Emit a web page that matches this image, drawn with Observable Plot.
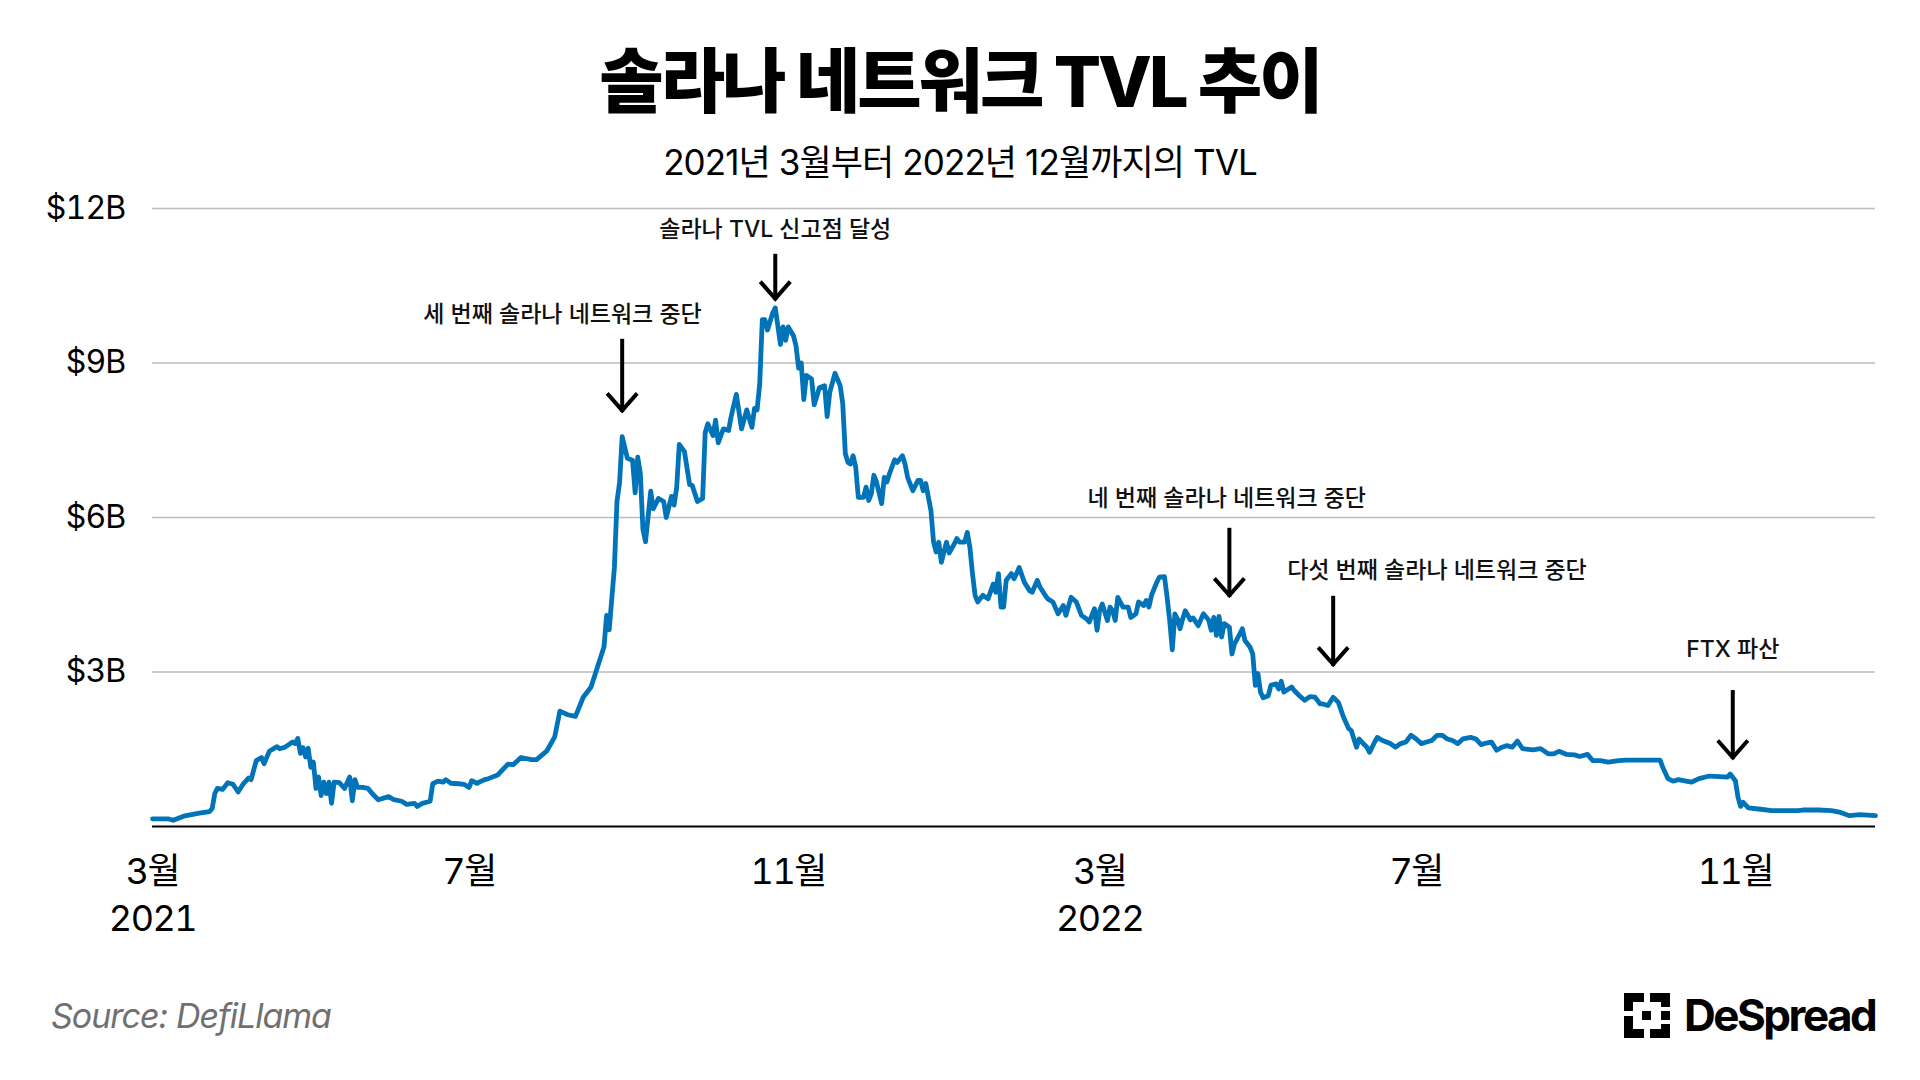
<!DOCTYPE html>
<html lang="ko">
<head>
<meta charset="utf-8">
<script src="https://cdn.jsdelivr.net/npm/d3@7"></script>
<script src="https://cdn.jsdelivr.net/npm/@observablehq/plot@0.6"></script>
<style>
  html, body { margin: 0; padding: 0; background: #fff; }
  body { width: 1920px; height: 1080px; position: relative; overflow: hidden;
         font-family: Inter, "Noto Sans CJK KR", sans-serif; color: #000; }
  #title { position: absolute; left: 0; width: 1920px; top: 47px; text-align: center;
           font-size: 70px; font-weight: 800; line-height: 1; letter-spacing: -3px; }
  #subtitle { position: absolute; left: 0; width: 1920px; top: 145px; text-align: center;
              font-size: 35px; font-weight: 400; line-height: 1; letter-spacing: -0.9px; }
  #chart { position: absolute; left: 0; top: 190px; }
  #chart g[aria-label="x-axis tick label"] { letter-spacing: -1.5px; }
  #chart g[aria-label="y-axis tick label"] { letter-spacing: -0.8px; }
  #source { position: absolute; left: 51px; top: 999px; font-size: 34px; font-style: italic;
            color: #707070; line-height: 1; letter-spacing: -1px; }
  #logo { position: absolute; left: 1624px; top: 992px; height: 46px; display: flex; align-items: center; }
  #logo span { font-size: 44px; font-weight: 700; line-height: 1; letter-spacing: -2.5px; margin-left: 14px; }
</style>
</head>
<body>
<div id="title">솔라나 네트워크 TVL 추이</div>
<div id="subtitle">2021년 3월부터 2022년 12월까지의 TVL</div>
<div id="chart"></div>
<div id="source">Source: DefiLlama</div>
<div id="logo">
  <svg width="46" height="45" viewBox="0 0 46 45">
    <g fill="#000">
      <rect x="0" y="0" width="20" height="9"/>
      <rect x="0" y="0" width="9" height="18"/>
      <rect x="0" y="23" width="9" height="22"/>
      <rect x="0" y="36" width="20" height="9"/>
      <rect x="26" y="0" width="20" height="9"/>
      <rect x="37" y="0" width="9" height="14"/>
      <rect x="37" y="18" width="9" height="9"/>
      <rect x="37" y="31" width="9" height="14"/>
      <rect x="26" y="36" width="20" height="9"/>
      <rect x="18" y="18" width="9" height="9"/>
    </g>
  </svg>
  <span>DeSpread</span>
</div>
<script>
// ---- Data ----
const dates = [
"2021-03-01","2021-03-07","2021-03-09","2021-03-13","2021-03-17","2021-03-19","2021-03-23","2021-03-24","2021-03-25","2021-03-26",
"2021-03-28","2021-03-30","2021-04-01","2021-04-03","2021-04-05","2021-04-07","2021-04-08","2021-04-10","2021-04-12","2021-04-13",
"2021-04-15","2021-04-18","2021-04-19","2021-04-21","2021-04-24","2021-04-25","2021-04-26","2021-04-27","2021-04-28","2021-04-29",
"2021-04-30","2021-05-01","2021-05-02","2021-05-03","2021-05-04","2021-05-05","2021-05-06","2021-05-07","2021-05-08","2021-05-09",
"2021-05-10","2021-05-12","2021-05-14","2021-05-16","2021-05-17","2021-05-18","2021-05-19","2021-05-21","2021-05-23","2021-05-25",
"2021-05-27","2021-05-31","2021-06-02","2021-06-05","2021-06-07","2021-06-10","2021-06-11","2021-06-13","2021-06-16","2021-06-17",
"2021-06-19","2021-06-21","2021-06-22","2021-06-24","2021-06-27","2021-06-29","2021-07-01","2021-07-02","2021-07-04","2021-07-07",
"2021-07-08","2021-07-12","2021-07-16","2021-07-18","2021-07-21","2021-07-25","2021-07-27","2021-07-31","2021-08-03","2021-08-05",
"2021-08-08","2021-08-11","2021-08-14","2021-08-17","2021-08-19","2021-08-22","2021-08-23","2021-08-24","2021-08-26","2021-08-27",
"2021-08-28","2021-08-29","2021-08-31","2021-09-02","2021-09-03","2021-09-04","2021-09-05","2021-09-06","2021-09-07","2021-09-09",
"2021-09-10","2021-09-12","2021-09-14","2021-09-15","2021-09-17","2021-09-18","2021-09-19","2021-09-20","2021-09-22","2021-09-24",
"2021-09-25","2021-09-27","2021-09-29","2021-09-30","2021-10-01","2021-10-03","2021-10-04","2021-10-05","2021-10-07","2021-10-09",
"2021-10-10","2021-10-12","2021-10-14","2021-10-16","2021-10-18","2021-10-19","2021-10-20","2021-10-21","2021-10-22","2021-10-23",
"2021-10-24","2021-10-26","2021-10-27","2021-10-29","2021-10-30","2021-10-31","2021-11-01","2021-11-03","2021-11-04","2021-11-05",
"2021-11-06","2021-11-07","2021-11-08","2021-11-10","2021-11-11","2021-11-13","2021-11-15","2021-11-16","2021-11-17","2021-11-19",
"2021-11-21","2021-11-22","2021-11-23","2021-11-24","2021-11-25","2021-11-26","2021-11-27","2021-11-28","2021-11-30","2021-12-01",
"2021-12-02","2021-12-03","2021-12-04","2021-12-05","2021-12-07","2021-12-08","2021-12-09","2021-12-10","2021-12-12","2021-12-13",
"2021-12-15","2021-12-16","2021-12-17","2021-12-19","2021-12-21","2021-12-22","2021-12-23","2021-12-24","2021-12-26","2021-12-27",
"2021-12-28","2021-12-29","2021-12-30","2021-12-31","2022-01-01","2022-01-02","2022-01-04","2022-01-05","2022-01-06","2022-01-08",
"2022-01-09","2022-01-10","2022-01-11","2022-01-12","2022-01-13","2022-01-15","2022-01-17","2022-01-19","2022-01-20","2022-01-21",
"2022-01-22","2022-01-23","2022-01-24","2022-01-26","2022-01-27","2022-01-28","2022-01-29","2022-01-31","2022-02-02","2022-02-03",
"2022-02-05","2022-02-06","2022-02-08","2022-02-09","2022-02-11","2022-02-13","2022-02-15","2022-02-16","2022-02-18","2022-02-20",
"2022-02-22","2022-02-24","2022-02-25","2022-02-27","2022-02-28","2022-03-01","2022-03-02","2022-03-04","2022-03-05","2022-03-06",
"2022-03-07","2022-03-08","2022-03-10","2022-03-12","2022-03-13","2022-03-15","2022-03-16","2022-03-18","2022-03-19","2022-03-20",
"2022-03-21","2022-03-23","2022-03-24","2022-03-26","2022-03-27","2022-03-28","2022-03-29","2022-03-30","2022-03-31","2022-04-01",
"2022-04-02","2022-04-03","2022-04-05","2022-04-06","2022-04-08","2022-04-10","2022-04-12","2022-04-13","2022-04-14","2022-04-15",
"2022-04-16","2022-04-17","2022-04-18","2022-04-20","2022-04-21","2022-04-22","2022-04-23","2022-04-25","2022-04-26","2022-04-28",
"2022-04-29","2022-04-30","2022-05-01","2022-05-02","2022-05-03","2022-05-05","2022-05-06","2022-05-08","2022-05-09","2022-05-10",
"2022-05-11","2022-05-14","2022-05-15","2022-05-17","2022-05-19","2022-05-21","2022-05-23","2022-05-25","2022-05-26","2022-05-28",
"2022-05-30","2022-06-01","2022-06-03","2022-06-05","2022-06-06","2022-06-08","2022-06-09","2022-06-10","2022-06-12","2022-06-13",
"2022-06-15","2022-06-16","2022-06-18","2022-06-21","2022-06-23","2022-06-25","2022-06-27","2022-06-29","2022-07-01","2022-07-03",
"2022-07-05","2022-07-07","2022-07-09","2022-07-11","2022-07-13","2022-07-15","2022-07-17","2022-07-19","2022-07-22","2022-07-24",
"2022-07-26","2022-07-28","2022-07-30","2022-08-01","2022-08-03","2022-08-05","2022-08-07","2022-08-09","2022-08-11","2022-08-15",
"2022-08-18","2022-08-21","2022-08-23","2022-08-25","2022-08-28","2022-08-31","2022-09-02","2022-09-05","2022-09-07","2022-09-10",
"2022-09-13","2022-09-17","2022-09-20","2022-09-24","2022-09-28","2022-10-03","2022-10-04","2022-10-06","2022-10-08","2022-10-10",
"2022-10-13","2022-10-15","2022-10-18","2022-10-22","2022-10-26","2022-10-29","2022-10-30","2022-11-01","2022-11-02","2022-11-03",
"2022-11-04","2022-11-06","2022-11-10","2022-11-15","2022-11-20","2022-11-25","2022-11-27","2022-12-03","2022-12-08","2022-12-11",
"2022-12-15","2022-12-19","2022-12-25"
];
// TVL in billions of USD
const tvl = [
0.15,0.15,0.12,0.20,0.24,0.26,0.29,0.35,0.64,0.74,
0.72,0.85,0.82,0.67,0.83,0.94,0.91,1.28,1.34,1.22,
1.46,1.55,1.51,1.54,1.64,1.61,1.71,1.42,1.53,1.35,
1.52,1.15,1.25,0.74,0.96,0.60,0.86,0.64,0.86,0.45,
0.86,0.85,0.74,0.96,0.50,0.91,0.76,0.76,0.74,0.62,
0.52,0.58,0.52,0.49,0.43,0.45,0.39,0.45,0.49,0.83,
0.88,0.86,0.91,0.84,0.83,0.82,0.76,0.89,0.84,0.91,
0.92,1.00,1.21,1.20,1.34,1.30,1.30,1.47,1.74,2.24,
2.17,2.14,2.51,2.71,3.02,3.49,4.10,3.82,5.03,6.31,
6.68,7.57,7.15,7.11,6.48,7.17,6.85,5.77,5.53,6.51,
6.17,6.37,6.31,6.00,6.41,6.24,6.58,7.42,7.28,6.64,
6.62,6.31,6.37,7.65,7.82,7.59,7.89,7.45,7.72,7.69,
7.96,8.39,7.72,8.09,7.75,8.12,8.09,8.59,9.84,9.84,
9.64,9.97,10.07,9.36,9.70,9.44,9.70,9.53,9.33,8.90,
9.00,8.29,8.76,8.69,8.19,8.52,8.56,7.96,8.43,8.80,
8.56,8.21,7.24,7.07,7.04,7.20,6.98,6.39,6.39,6.59,
6.33,6.46,6.82,6.69,6.27,6.78,6.69,6.85,7.12,7.07,
7.20,7.04,6.78,6.52,6.72,6.72,6.52,6.66,6.13,5.52,
5.33,5.52,5.13,5.33,5.52,5.31,5.49,5.59,5.52,5.52,
5.71,5.42,4.91,4.49,4.36,4.49,4.42,4.71,4.55,4.91,
4.26,4.26,4.78,4.91,4.81,4.91,5.03,4.74,4.58,4.55,
4.78,4.65,4.49,4.42,4.36,4.13,4.29,4.10,4.45,4.36,
4.10,4.03,3.97,4.23,3.81,4.19,4.32,4.00,4.26,4.19,
4.00,4.45,4.26,4.26,4.06,4.13,4.36,4.29,4.39,4.26,
4.49,4.74,4.84,4.85,4.45,4.00,3.43,4.13,4.03,3.84,
4.03,4.19,4.01,4.05,3.90,4.13,4.01,3.81,4.06,3.71,
4.08,3.68,3.94,3.87,3.35,3.55,3.64,3.84,3.61,3.48,
3.35,2.74,2.97,2.61,2.50,2.54,2.74,2.77,2.67,2.82,
2.61,2.71,2.64,2.54,2.45,2.52,2.51,2.38,2.38,2.35,
2.51,2.41,2.12,1.90,1.86,1.54,1.70,1.64,1.54,1.44,
1.64,1.73,1.67,1.61,1.54,1.61,1.64,1.77,1.70,1.61,
1.64,1.67,1.77,1.77,1.70,1.67,1.61,1.70,1.73,1.70,
1.59,1.62,1.64,1.48,1.54,1.57,1.54,1.66,1.51,1.49,
1.51,1.41,1.41,1.46,1.40,1.39,1.36,1.40,1.28,1.28,
1.25,1.28,1.29,1.29,1.29,1.29,1.15,0.93,0.88,0.91,
0.88,0.86,0.93,0.98,0.97,0.96,1.02,0.89,0.57,0.39,
0.47,0.36,0.34,0.31,0.31,0.31,0.32,0.32,0.31,0.28,
0.21,0.23,0.21
];

// Axis ticks
const yTicks = [3, 6, 9, 12];
const xTickDates = ["2021-03-01","2021-07-01","2021-11-01","2022-03-01","2022-07-01","2022-11-01"];
const xTickLabels = ["3월\n2021","7월","11월","3월\n2022","7월","11월"];

// Annotations
const annoLabels = ["세 번째 솔라나 네트워크 중단","솔라나 TVL 신고점 달성","네 번째 솔라나 네트워크 중단","다섯 번째 솔라나 네트워크 중단","FTX 파산"];
const annoTextDates = ["2021-08-06","2021-10-27","2022-04-19","2022-07-09","2022-10-31"];
const annoTextValues = [9.94, 11.59, 6.37, 4.97, 3.44];
const arrowDates = ["2021-08-29","2021-10-27","2022-04-20","2022-05-30","2022-10-31"];
const arrowTops = [9.46, 11.11, 5.79, 4.47, 2.64];
const arrowTips = [8.04, 10.21, 4.45, 3.11, 1.30];

// ---- Build tables ----
const data = dates.map((d, i) => ({date: new Date(d), tvl: tvl[i]}));
const annots = annoLabels.map((label, i) => ({
  label,
  textDate: new Date(annoTextDates[i]),
  textValue: annoTextValues[i],
  arrowDate: new Date(arrowDates[i]),
  arrowTop: arrowTops[i],
  arrowTip: arrowTips[i]
}));
const tickLabelMap = new Map(xTickDates.map((d, i) => [+new Date(d), xTickLabels[i]]));

const chevron = {
  draw(context) {
    context.moveTo(-15, -19);
    context.lineTo(0, -2);
    context.lineTo(15, -19);
  }
};

const chart = Plot.plot({
  width: 1920,
  height: 760,
  marginLeft: 152,
  marginRight: 45,
  marginTop: 18,
  marginBottom: 124,
  style: {fontFamily: 'Inter, "Noto Sans CJK KR", sans-serif', background: "white", color: "#000", overflow: "visible"},
  x: {type: "utc", domain: [new Date("2021-03-01"), new Date("2022-12-25")]},
  y: {domain: [0, 12]},
  marks: [
    Plot.gridY(yTicks, {stroke: "#bdbdbd", strokeOpacity: 1, strokeWidth: 1.5}),
    Plot.ruleY([0], {stroke: "#000", strokeWidth: 2}),
    Plot.axisY(yTicks, {tickSize: 0, tickPadding: 27, fontSize: 32, tickFormat: d => `$${d}B`, label: null}),
    Plot.axisX(xTickDates.map(d => new Date(d)), {
      tickSize: 0, tickPadding: 24, fontSize: 36, lineHeight: 1.3,
      tickFormat: d => tickLabelMap.get(+d), label: null
    }),
    Plot.lineY(data, {x: "date", y: "tvl", stroke: "#0073b9", strokeWidth: 4.8, strokeLinejoin: "round"}),
    Plot.ruleX(annots, {x: "arrowDate", y1: "arrowTop", y2: "arrowTip", stroke: "#000", strokeWidth: 4}),
    Plot.dot(annots, {x: "arrowDate", y: "arrowTip", symbol: chevron, fill: "none", stroke: "#000", strokeWidth: 4, strokeLinejoin: "miter"}),
    Plot.text(annots, {x: "textDate", y: "textValue", text: "label", fontSize: 23, fontWeight: 500, fill: "#111"})
  ]
});
document.getElementById("chart").appendChild(chart);
</script>
</body>
</html>
